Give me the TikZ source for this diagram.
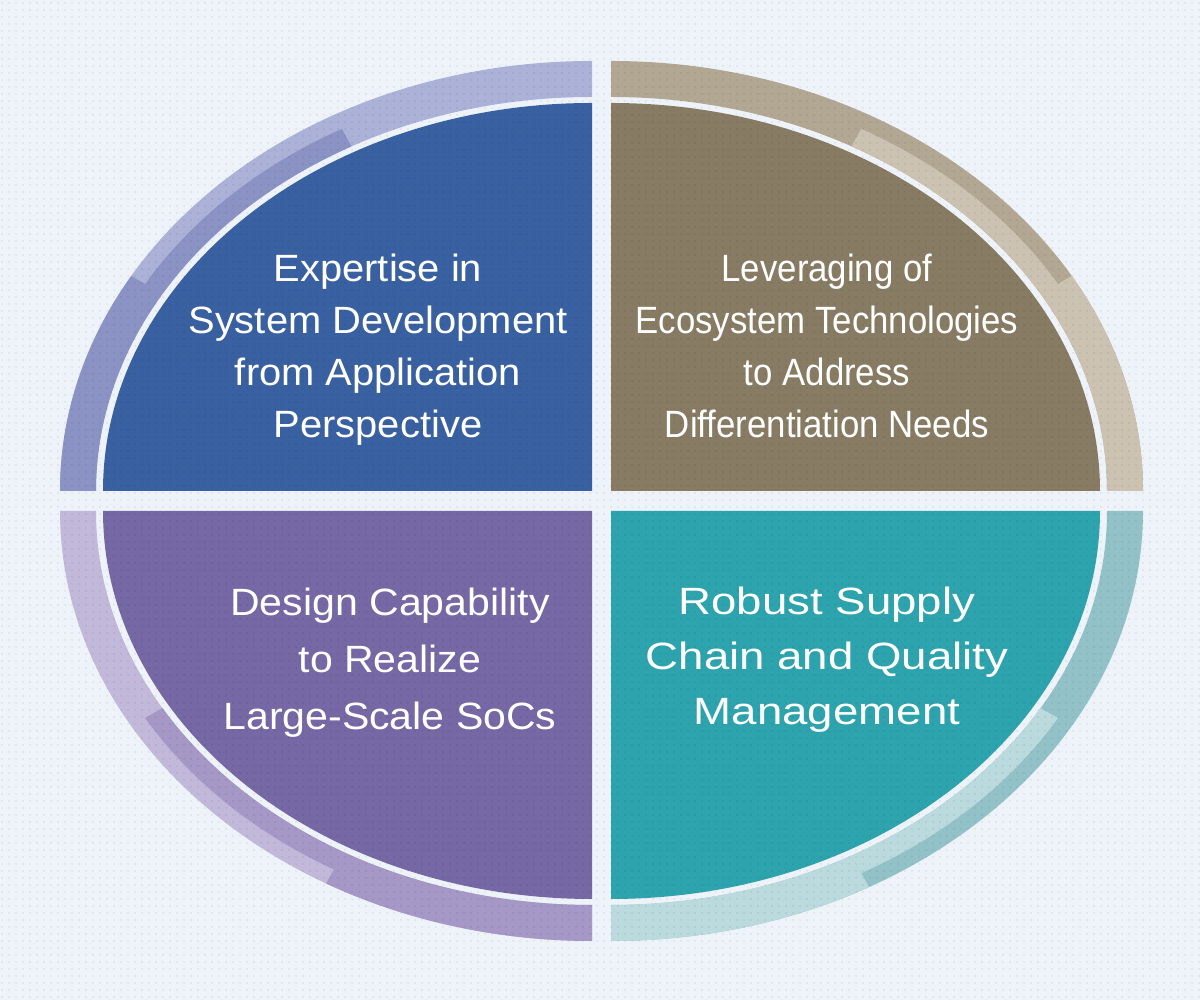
\documentclass[tikz,border=0pt]{standalone}
\usepackage{fontspec}
\usepackage{xcolor}
\usepackage{tikz}
\usetikzlibrary{calc,patterns.meta}

\newfontfamily\tlfont[FakeStretch=1.05]{Liberation Sans}
\newfontfamily\trfont[FakeStretch=0.915]{Liberation Sans}
\newfontfamily\blfont[FakeStretch=1.08]{Liberation Sans}
\newfontfamily\brfont[FakeStretch=1.2]{Liberation Sans}

\definecolor{bgpaper}{HTML}{EEF3FA}
\definecolor{tlfill}{HTML}{3960A0}
\definecolor{trfill}{HTML}{877B63}
\definecolor{blfill}{HTML}{7568A4}
\definecolor{brfill}{HTML}{2DA3AD}
\definecolor{tlringA}{HTML}{ABB1D7}
\definecolor{tlringB}{HTML}{8B93C5}
\definecolor{trringA}{HTML}{B2A792}
\definecolor{trringB}{HTML}{CBC2B2}
\definecolor{brringA}{HTML}{92C2C8}
\definecolor{brringB}{HTML}{BADADD}
\definecolor{blringA}{HTML}{C2B8D9}
\definecolor{blringB}{HTML}{A597C6}

\pgfdeclarepattern{
  name=bgdots,
  type=uncolored,
  bottom left={\pgfpoint{0pt}{0pt}},
  top right={\pgfpoint{3.5pt}{3.5pt}},
  tile size={\pgfpoint{3.5pt}{3.5pt}},
  code={\pgfpathcircle{\pgfpoint{1.75pt}{1.75pt}}{0.6pt}\pgfusepath{fill}}
}

% piece of the outer ring: corner, from, to, width (from inner edge), colour
\newcommand{\ringseg}[5]{%
  \fill[#5] ($(#1)+(#2:496 and 394)$) -- ++(#2:#4)
    arc[start angle=#2, end angle=#3, x radius={496+#4}, y radius={394+#4}]
    -- ++(#3:-#4)
    arc[start angle=#3, end angle=#2, x radius=496, y radius=394] -- cycle;}

\begin{document}
\begin{tikzpicture}[x=0.5pt,y=0.5pt,
	quadtext/.style={text=white, align=center, inner sep=0pt, anchor=base}]
	\useasboundingbox (0,0) rectangle (1200,1000);
	\fill[bgpaper] (0,0) rectangle (1200,1000);
	\coordinate (tl) at (592,509);
	\coordinate (tr) at (611,509);
	\coordinate (bl) at (592,489);
	\coordinate (br) at (611,489);
	% outer ring
	\ringseg{tl}{90}{180}{36}{tlringA}
	\ringseg{tl}{150}{180}{36}{tlringB}
	\ringseg{tl}{119}{150}{20}{tlringB}
	\ringseg{tr}{0}{90}{36}{trringA}
	\ringseg{tr}{0}{30}{36}{trringB}
	\ringseg{tr}{30}{61}{20}{trringB}
	\ringseg{br}{270}{360}{36}{brringA}
	\ringseg{br}{270}{299}{36}{brringB}
	\ringseg{br}{299}{330}{20}{brringB}
	\ringseg{bl}{180}{270}{36}{blringA}
	\ringseg{bl}{240}{270}{36}{blringB}
	\ringseg{bl}{210}{240}{20}{blringB}
	% quarters
	\foreach \c/\a/\col in {tl/90/tlfill, tr/0/trfill, bl/180/blfill, br/270/brfill}{
		\fill[\col] (\c) -- ($(\c)+(\a:489 and 388)$)
			arc[start angle=\a, delta angle=90, x radius=489, y radius=388] -- cycle;
	}
	\fill[pattern=bgdots, pattern color=black, opacity=0.07] (0,0) rectangle (1200,1000);
	% texts, placed by the baseline of their last line
	\node[quadtext, font=\tlfont\fontsize{19pt}{26pt}\selectfont] (tlText) at (378,562)
		{Expertise in\\System Development\\from Application\\Perspective};
	\node[quadtext, font=\trfont\fontsize{19pt}{26pt}\selectfont] (trText) at (827,562)
		{Leveraging of\\Ecosystem Technologies\\to Address\\Differentiation Needs};
	\node[quadtext, font=\blfont\fontsize{19pt}{28.5pt}\selectfont] (blText) at (390,270)
		{Design Capability\\to Realize\\Large-Scale SoCs};
	\node[quadtext, font=\brfont\fontsize{19pt}{27.5pt}\selectfont] (brText) at (827,275)
		{Robust Supply\\Chain and Quality\\Management};
\end{tikzpicture}
\end{document}
